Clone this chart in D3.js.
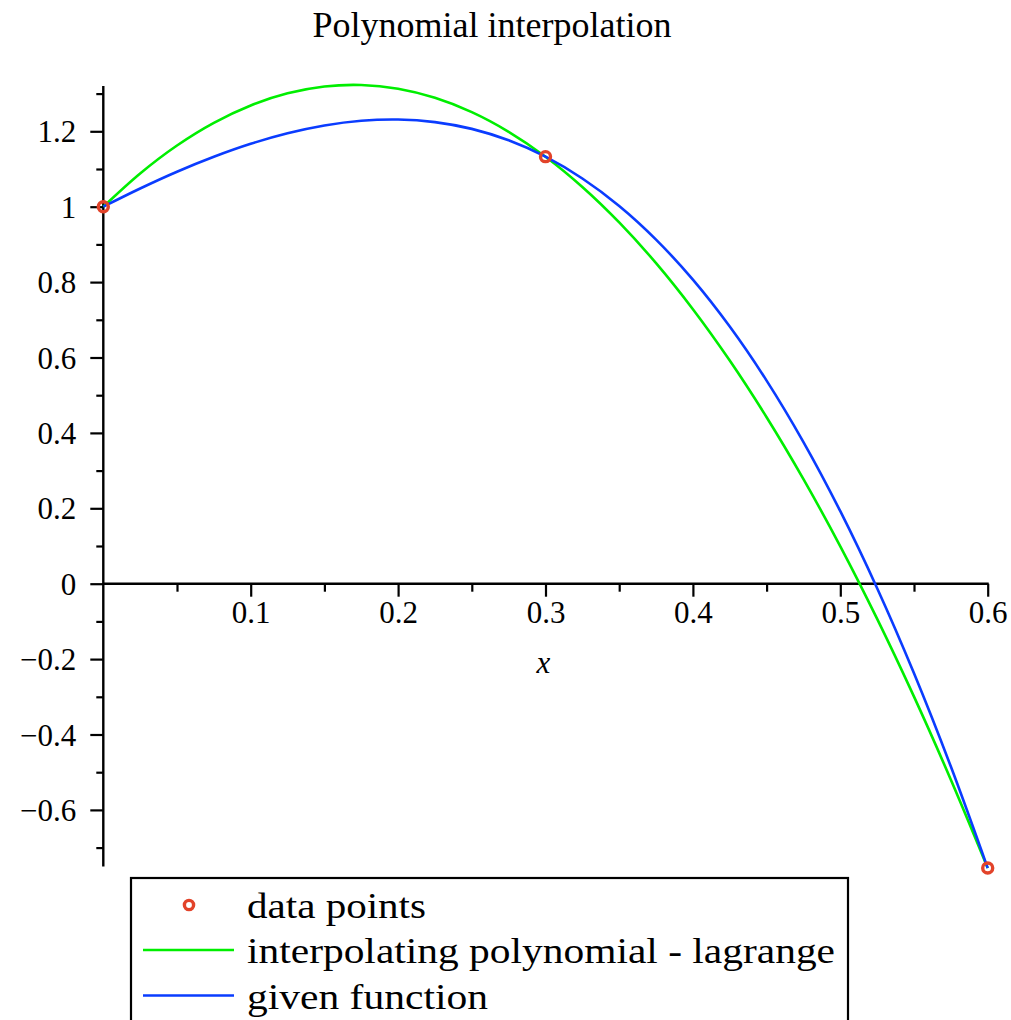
<!DOCTYPE html>
<html>
<head>
<meta charset="utf-8">
<script src="https://cdn.jsdelivr.net/npm/d3@7"></script>
</head>
<body style="margin:0">
<svg id="chart" width="1011" height="1020" style="font-family:'Liberation Serif'"></svg>
<script>
// ---- data ----
const sampleX = [0, 0.025, 0.05, 0.075, 0.1, 0.125, 0.15, 0.175, 0.2, 0.225, 0.25, 0.275,
                 0.3, 0.325, 0.35, 0.375, 0.4, 0.425, 0.45, 0.475, 0.5, 0.525, 0.55, 0.575, 0.6];
const lagrangeY = [1, 1.0882, 1.1624, 1.2225, 1.2686, 1.3007, 1.3188, 1.3228, 1.3128, 1.2888, 1.2508, 1.1987,
                   1.1327, 1.0525, 0.9584, 0.8503, 0.7281, 0.5919, 0.4416, 0.2774, 0.0991, -0.0933, -0.2996, -0.5200, -0.7543];
const givenY = [1, 1.0483, 1.0928, 1.1325, 1.1669, 1.1948, 1.2155, 1.2280, 1.2313, 1.2244, 1.2064, 1.1761,
                1.1327, 1.0749, 1.0020, 0.9128, 0.8064, 0.6820, 0.5387, 0.3757, 0.1923, -0.0120, -0.2377, -0.4851, -0.7543];
const pointsX = [0, 0.3, 0.6];
const pointsY = [1, 1.1327, -0.7543];
const xMajorTicks = [0.1, 0.2, 0.3, 0.4, 0.5, 0.6];
const xMinorTicks = [0.05, 0.15, 0.25, 0.35, 0.45, 0.55];
const yMajorTicks = [-0.6, -0.4, -0.2, 0, 0.2, 0.4, 0.6, 0.8, 1, 1.2];
const yMinorTicks = [-0.7, -0.5, -0.3, -0.1, 0.1, 0.3, 0.5, 0.7, 0.9, 1.1, 1.3];
const legendLabels = ["data points", "interpolating polynomial - lagrange", "given function"];
const titleText = "Polynomial interpolation";
const xLabel = "x";

// ---- drawing ----
const FONT = "Liberation Serif";
const svg = d3.select("#chart");
const COLORS = { pts: "#e2432a", lag: "#00ee00", given: "#0a3cff" };

const x = d3.scaleLinear().domain([0, 0.6]).range([103.3, 987.7]);
const y = d3.scaleLinear().domain([-0.75, 1.32]).range([866.45, 86.06]);
const fmt = d3.format(".1~f");

function label(sel, size) {
  return sel.style("font-family", FONT).style("font-size", size + "px");
}

// title
label(svg.append("text").attr("x", 492).attr("y", 37).attr("text-anchor", "middle"), 36).text(titleText);

// y axis (major)
const yAxisG = svg.append("g").attr("transform", `translate(${x(0)},0)`)
  .call(d3.axisLeft(y).tickValues(yMajorTicks).tickFormat(fmt).tickSize(13).tickSizeOuter(0).tickPadding(14));
yAxisG.attr("font-family", null).attr("font-size", null);
yAxisG.select(".domain").remove();
yAxisG.selectAll(".tick line").attr("stroke", "#000").attr("stroke-width", 2.2);
label(yAxisG.selectAll(".tick text"), 31).attr("dy", "0.34em");
// y minor
const yMinG = svg.append("g").attr("transform", `translate(${x(0)},0)`)
  .call(d3.axisLeft(y).tickValues(yMinorTicks).tickFormat("").tickSize(7).tickSizeOuter(0));
yMinG.select(".domain").remove();
yMinG.selectAll(".tick text").remove();
yMinG.selectAll(".tick line").attr("stroke", "#000").attr("stroke-width", 2.2);

// x axis (major)
const xAxisG = svg.append("g").attr("transform", `translate(0,${y(0)})`)
  .call(d3.axisBottom(x).tickValues(xMajorTicks).tickFormat(fmt).tickSize(13).tickSizeOuter(0).tickPadding(26));
xAxisG.attr("font-family", null).attr("font-size", null);
xAxisG.select(".domain").remove();
xAxisG.selectAll(".tick line").attr("stroke", "#000").attr("stroke-width", 2.2);
label(xAxisG.selectAll(".tick text"), 31).attr("dy", "0");
const xMinG = svg.append("g").attr("transform", `translate(0,${y(0)})`)
  .call(d3.axisBottom(x).tickValues(xMinorTicks).tickFormat("").tickSize(8).tickSizeOuter(0));
xMinG.select(".domain").remove();
xMinG.selectAll(".tick text").remove();
xMinG.selectAll(".tick line").attr("stroke", "#000").attr("stroke-width", 2.2);

// axis lines
svg.append("line").attr("x1", x(0)).attr("x2", x(0)).attr("y1", y(1.32)).attr("y2", y(-0.75))
  .attr("stroke", "#000").attr("stroke-width", 2.4);
svg.append("line").attr("x1", x(0)).attr("x2", x(0.6) + 1).attr("y1", y(0)).attr("y2", y(0))
  .attr("stroke", "#000").attr("stroke-width", 2.4);

// x label
label(svg.append("text").attr("x", x(0.3) - 2).attr("y", 673).attr("text-anchor", "middle"), 31)
  .style("font-style", "italic").text(xLabel);

// curves
const line = d3.line().x(d => x(d[0])).y(d => y(d[1])).curve(d3.curveCatmullRom);
svg.append("path").datum(sampleX.map((v, i) => [v, lagrangeY[i]]))
  .attr("d", line).attr("fill", "none").attr("stroke", COLORS.lag).attr("stroke-width", 2.6);
svg.append("path").datum(sampleX.map((v, i) => [v, givenY[i]]))
  .attr("d", line).attr("fill", "none").attr("stroke", COLORS.given).attr("stroke-width", 2.6);

// data points
svg.append("g").selectAll("circle").data(pointsX.map((v, i) => [v, pointsY[i]])).join("circle")
  .attr("cx", d => x(d[0])).attr("cy", d => y(d[1])).attr("r", 5)
  .attr("fill", "none").attr("stroke", COLORS.pts).attr("stroke-width", 3.4);

// legend
const lg = svg.append("g");
lg.append("rect").attr("x", 131).attr("y", 878).attr("width", 717).attr("height", 200)
  .attr("fill", "#fff").attr("stroke", "#000").attr("stroke-width", 2.2);
const rowY = [905, 950, 995.5];
const textLen = [179, 588, 241];
lg.append("circle").attr("cx", 189).attr("cy", rowY[0]).attr("r", 4.6)
  .attr("fill", "none").attr("stroke", COLORS.pts).attr("stroke-width", 3.4);
lg.append("line").attr("x1", 143).attr("x2", 234).attr("y1", rowY[1]).attr("y2", rowY[1])
  .attr("stroke", COLORS.lag).attr("stroke-width", 2.6);
lg.append("line").attr("x1", 143).attr("x2", 234).attr("y1", rowY[2]).attr("y2", rowY[2])
  .attr("stroke", COLORS.given).attr("stroke-width", 2.6);
legendLabels.forEach((t, i) => {
  label(lg.append("text").attr("x", 247).attr("y", rowY[i] + 13), 35)
    .attr("textLength", textLen[i]).attr("lengthAdjust", "spacingAndGlyphs").text(t);
});
</script>
</body>
</html>
